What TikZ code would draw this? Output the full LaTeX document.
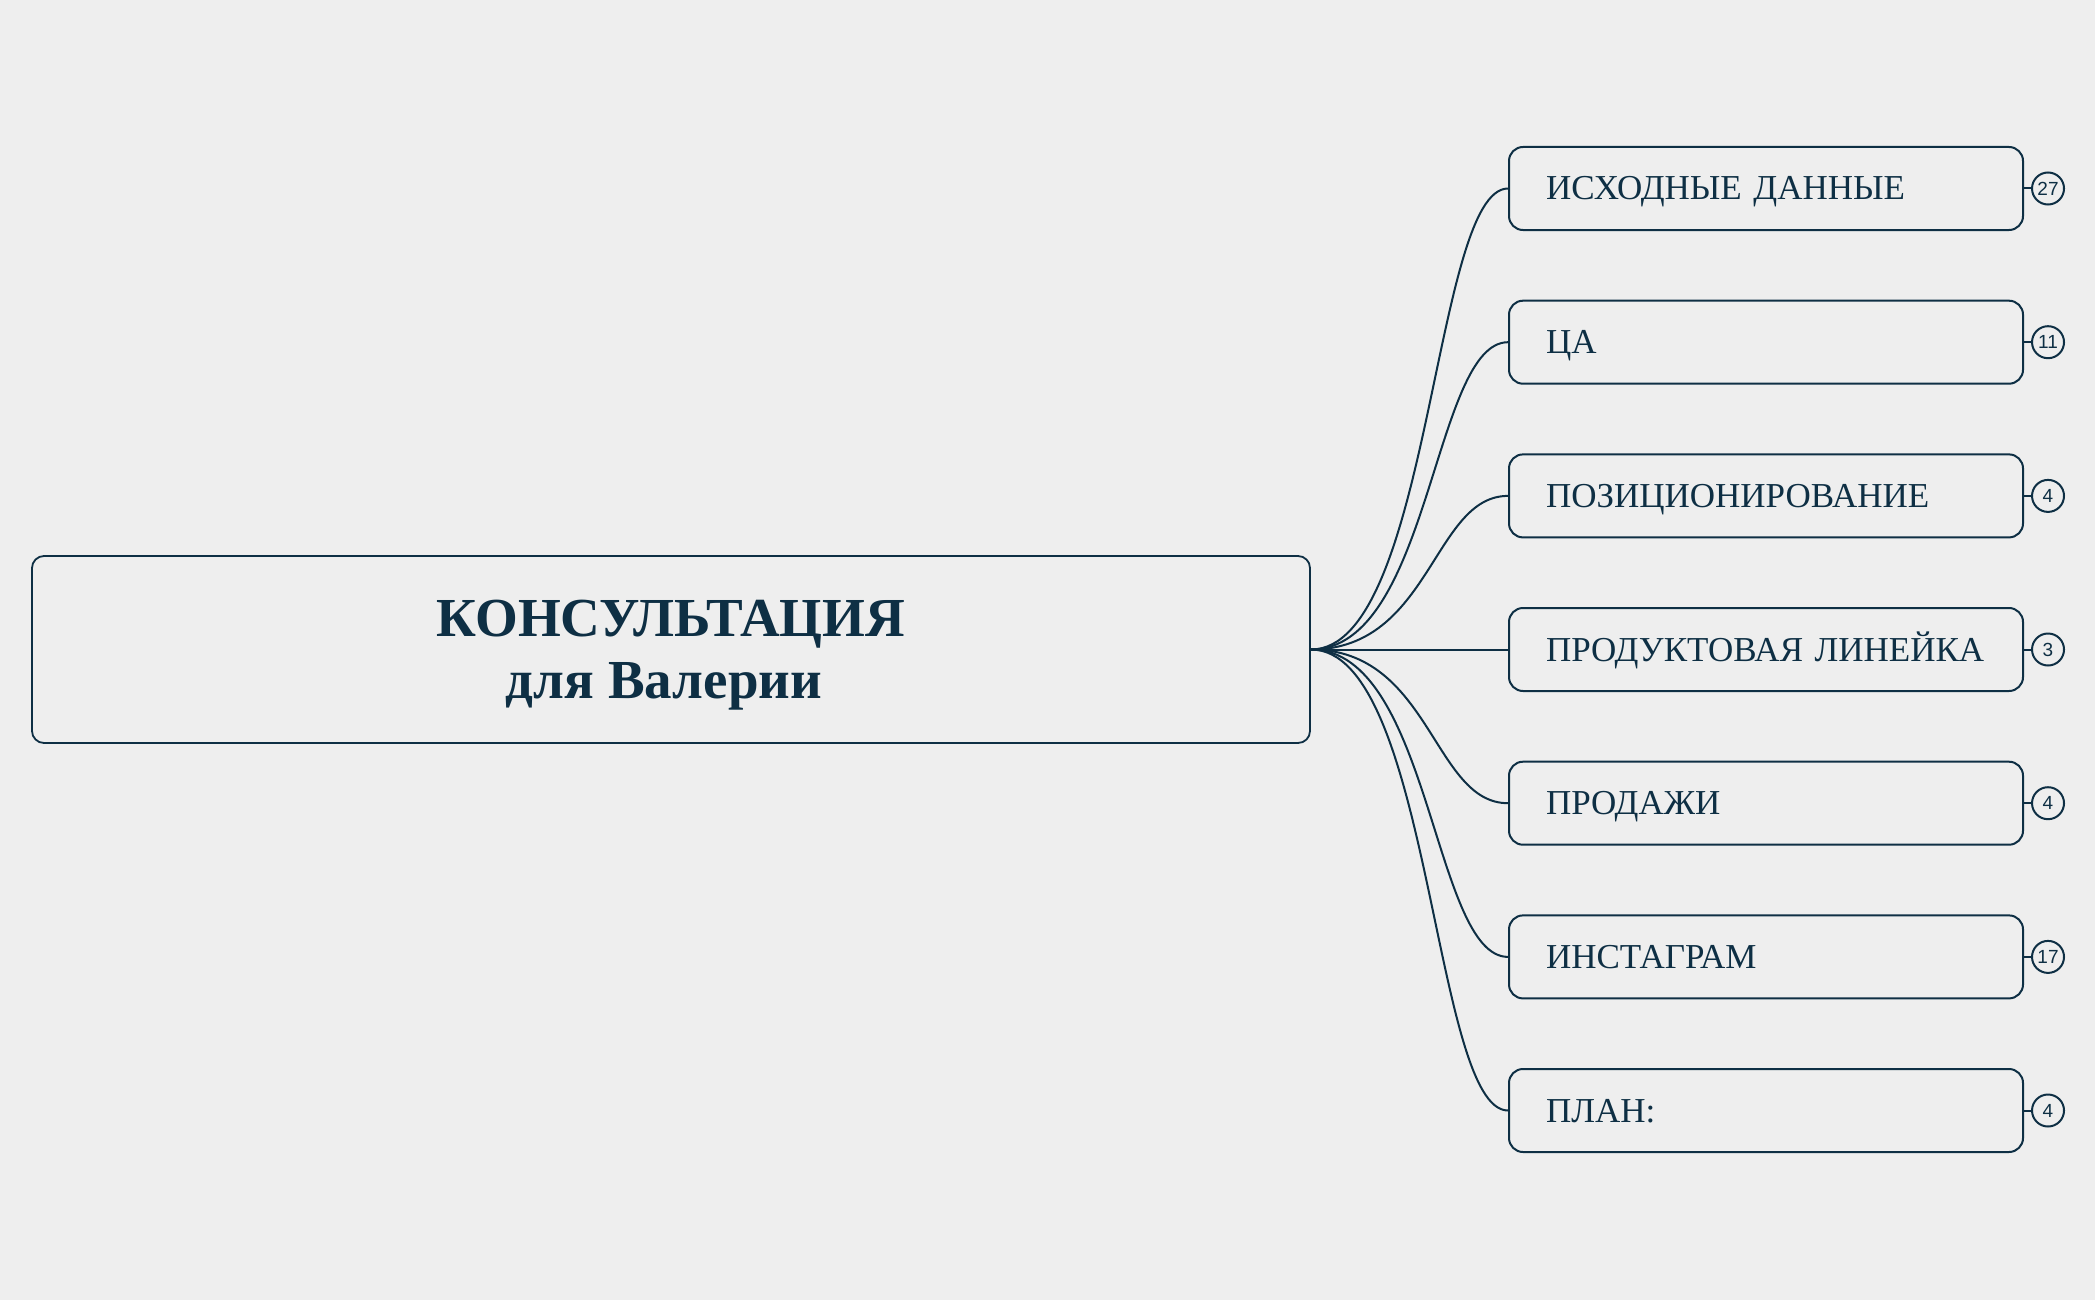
\documentclass[tikz,border=0pt]{standalone}
\usepackage{fontspec}
\setmainfont{Liberation Serif}
\newfontfamily\badgefont{Liberation Sans}
\definecolor{bgc}{HTML}{EEEEEE}
\definecolor{ink}{HTML}{0E2F44}
\begin{document}
\begin{tikzpicture}[x=1pt,y=-1pt,
  rootbox/.style={draw=ink, line width=1.8pt, rounded corners=12pt, minimum width=1278pt, minimum height=187pt, inner sep=0pt},
  roottext/.style={text=ink, inner sep=0pt, anchor=base, font=\fontsize{55}{62}\selectfont\bfseries},
  childbox/.style={draw=ink, line width=2pt, rounded corners=14pt, minimum width=514pt, minimum height=83pt, text=ink, text width=440pt, align=left, inner xsep=37pt, inner ysep=0pt, text height=23pt, text depth=0pt, font=\fontsize{35}{40}\selectfont},
  badge/.style={draw=ink, line width=2pt, circle, minimum size=32pt, inner sep=0pt, text=ink, font=\badgefont\fontsize{19}{19}\selectfont},
  link/.style={draw=ink, line width=2pt}
]
\fill[bgc] (0,0) rectangle (2095,1300);
\useasboundingbox (0,0) rectangle (2095,1300);

\node[rootbox] (root) at (671,649.5) {};
\node[roottext] (t1) at (671,636) {КОНСУЛЬТАЦИЯ};
\node[roottext] (t2) at (664,698) {для Валерии};

\node[childbox] (c1) at (1766,188.5) {\mbox{ИСХОДНЫЕ ДАННЫЕ}};
\node[childbox] (c2) at (1766,342.2) {\mbox{ЦА}};
\node[childbox] (c3) at (1766,495.9) {\mbox{ПОЗИЦИОНИРОВАНИЕ}};
\node[childbox] (c4) at (1766,649.5) {\mbox{ПРОДУКТОВАЯ ЛИНЕЙКА}};
\node[childbox] (c5) at (1766,803.2) {\mbox{ПРОДАЖИ}};
\node[childbox] (c6) at (1766,956.9) {\mbox{ИНСТАГРАМ}};
\node[childbox] (c7) at (1766,1110.5) {\mbox{ПЛАН:}};

\node[badge] (b1) at (2048,188.5) {27};
\node[badge] (b2) at (2048,342.2) {11};
\node[badge] (b3) at (2048,495.9) {4};
\node[badge] (b4) at (2048,649.5) {3};
\node[badge] (b5) at (2048,803.2) {4};
\node[badge] (b6) at (2048,956.9) {17};
\node[badge] (b7) at (2048,1110.5) {4};

\foreach \i in {1,...,7}{
  \draw[link] (root.east) .. controls +(120,0) and +(-75,0) .. (c\i.west);
  \draw[link] (c\i.east) -- (b\i.west);
}
\end{tikzpicture}
\end{document}
